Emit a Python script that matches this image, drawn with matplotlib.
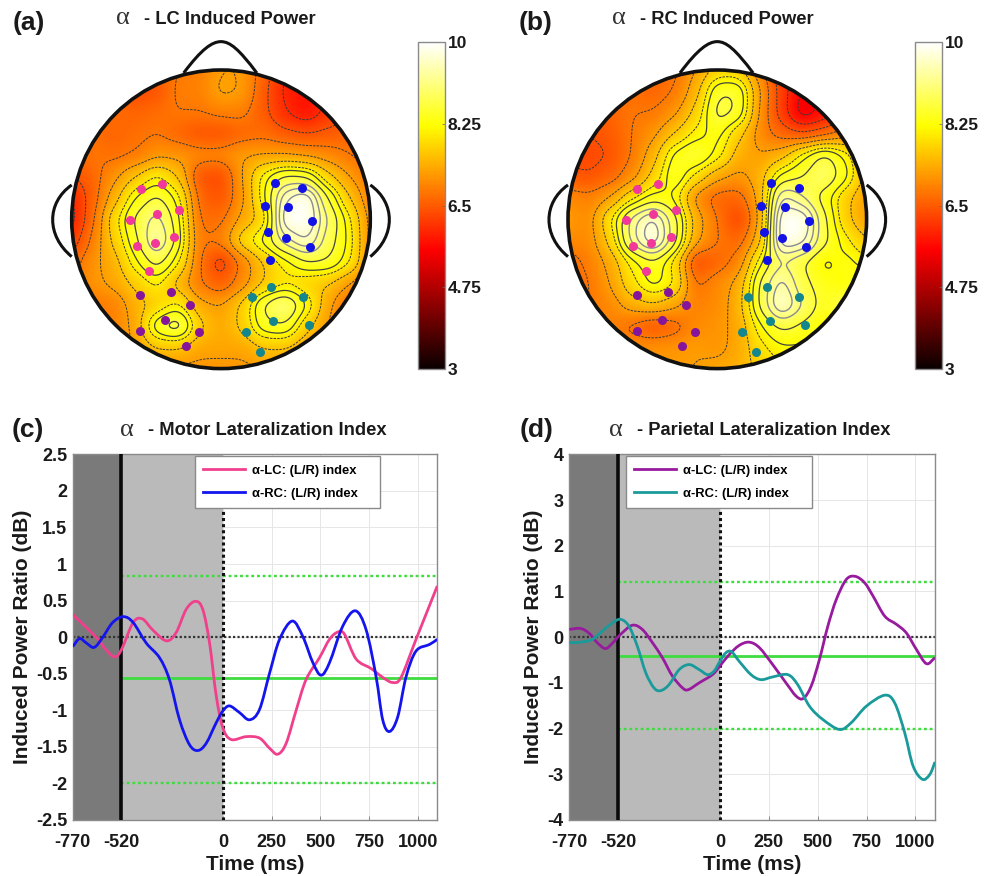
import numpy as np
import matplotlib
matplotlib.use("Agg")
import matplotlib.pyplot as plt
from matplotlib.path import Path
from matplotlib.patches import Circle, PathPatch

plt.rcParams['font.family'] = ['Liberation Sans', 'DejaVu Sans']
plt.rcParams['font.weight'] = 'bold'
plt.rcParams['axes.unicode_minus'] = False

W, H = 984, 876

# power, rows top to bottom, left to right
power_a = [
    [6.6,6.6,6.6,6.6,6.6,6.8,6.9,7.2,7.2,6.6,6.0,5.9,6.2,6.4,6.6],
    [6.6,6.6,6.6,6.3,6.4,6.9,6.9,7.3,7.2,6.5,5.9,5.7,6.1,6.4,6.6],
    [6.6,6.6,6.7,6.6,6.7,6.8,6.8,6.9,6.9,6.5,6.0,5.7,6.1,6.4,6.6],
    [6.6,6.7,6.6,6.7,6.8,6.6,6.4,6.4,6.6,6.7,6.5,6.4,6.5,6.6,6.6],
    [6.6,6.8,6.7,6.8,7.1,7.1,7.0,7.0,7.2,7.2,7.2,7.1,7.0,6.8,6.6],
    [6.4,6.6,7.1,7.6,8.1,7.6,6.4,6.3,7.2,8.2,8.7,8.6,7.7,7.2,6.8],
    [5.9,6.6,7.4,8.3,8.7,8.2,6.6,6.4,7.1,8.2,9.6,10.0,8.6,7.6,6.9],
    [5.8,6.7,7.9,8.7,9.2,8.4,6.7,6.7,7.3,7.7,10.0,10.0,9.0,8.1,7.0],
    [6.1,6.9,7.7,8.5,9.5,8.5,6.8,6.9,7.9,8.4,9.2,9.7,8.8,8.2,7.0],
    [6.6,7.1,7.4,8.2,8.8,8.1,6.8,6.1,6.9,7.6,8.1,8.6,8.6,8.1,7.0],
    [6.8,7.1,7.3,7.7,8.1,7.4,6.8,6.5,7.0,7.6,7.9,7.7,7.6,7.2,6.7],
    [6.8,6.8,6.9,7.4,7.7,8.1,7.3,7.2,7.7,8.7,9.2,8.3,7.3,6.7,6.4],
    [6.8,6.8,6.9,7.3,8.6,9.0,7.7,7.3,7.7,8.5,8.6,7.7,7.2,6.6,6.4],
    [6.8,6.9,7.0,7.2,7.6,7.6,7.3,7.3,7.3,7.6,7.6,7.3,7.1,6.8,6.6],
    [6.9,6.9,7.0,7.1,7.1,7.1,7.1,7.1,7.1,7.2,7.2,7.1,6.9,6.8,6.6],
]
power_b = [
    [6.6,6.6,6.7,6.7,6.6,6.7,7.2,7.7,7.7,6.9,6.1,5.9,5.9,6.0,6.1],
    [6.6,6.6,6.7,6.7,6.6,6.8,7.4,8.6,8.6,7.2,6.2,5.5,5.7,6.0,6.3],
    [6.5,6.5,6.6,6.8,6.8,7.1,7.7,8.8,8.6,7.1,6.2,5.3,5.7,6.2,6.6],
    [6.4,6.4,6.5,6.8,7.1,7.6,8.1,8.4,7.7,7.0,6.6,6.4,6.6,7.0,7.2],
    [6.3,6.3,6.4,6.8,7.4,8.4,8.7,8.2,7.4,7.2,7.4,8.2,8.8,8.2,7.4],
    [6.5,6.4,6.6,7.0,7.7,8.6,7.9,7.3,7.1,7.4,8.4,8.6,9.0,8.4,7.4],
    [7.0,6.9,7.2,7.9,8.4,8.2,7.0,6.6,6.6,7.3,9.5,9.0,8.4,7.7,7.2],
    [7.2,7.0,8.0,9.2,9.8,8.8,7.4,6.8,6.2,7.2,10.0,10.0,8.7,7.7,7.2],
    [7.0,7.0,7.7,9.2,10.0,8.8,7.3,6.8,6.6,7.4,10.0,9.8,8.7,8.1,7.6],
    [6.6,6.9,7.3,8.1,8.5,7.9,6.3,6.6,6.9,8.2,9.0,8.6,8.1,8.4,8.1],
    [6.4,6.8,7.2,7.9,8.4,8.1,6.7,7.0,7.3,8.7,9.5,8.7,8.4,8.2,8.7],
    [6.6,6.8,7.0,7.4,7.6,7.3,6.9,7.0,7.4,8.7,9.8,9.0,8.4,8.8,9.0],
    [6.6,6.8,6.9,6.7,6.4,6.6,7.0,7.1,7.3,8.2,8.7,8.5,8.2,8.4,8.5],
    [6.8,6.8,6.9,7.0,7.1,7.1,7.2,7.1,7.3,7.9,8.2,8.2,8.1,8.1,7.7],
    [6.9,6.9,7.0,7.0,7.1,7.2,7.2,7.3,7.4,7.7,7.9,7.9,7.7,7.7,7.7],
]

# electrodes in head units (radius = 1)
pink_x = [-.538,-.397,-.609,-.431,-.279,-.565,-.444,-.312,-.480]
pink_y = [.201,.239,-.007,.038,.065,-.179,-.156,-.121,-.344]
blue_x = [.359,.545,.292,.451,.612,.315,.435,.594,.330]
blue_y = [.246,.212,.092,.085,-.013,-.083,-.125,-.185,-.272]
purple_x = [-.540,-.333,-.208,-.373,-.540,-.147,-.237]
purple_y = [-.507,-.487,-.576,-.674,-.748,-.754,-.846]
teal_x = [.335,.208,.549,.350,.589,.165,.259]
teal_y = [-.455,-.522,-.522,-.679,-.708,-.752,-.891]

# panel c
c_lc_t = [-770,-650,-600,-555,-520,-460,-413,-360,-290,-240,-188,-140,-103,-68,-34,0,43,120,188,240,282,325,376,427,496,547,590,624,684,761,820,871,914,991,1100]
c_lc_v = [.31,0,-.17,-.27,-.17,.2,.25,.1,-.05,.06,.38,.49,.38,-.08,-.8,-1.24,-1.4,-1.36,-1.38,-1.52,-1.6,-1.45,-1.0,-.58,-.28,-.03,.07,.04,-.3,-.43,-.55,-.62,-.55,-.03,.7]
c_rc_t = [-770,-735,-700,-660,-618,-565,-510,-460,-393,-325,-274,-222,-171,-128,-85,-34,0,34,85,137,188,240,291,356,410,462,504,547,615,680,735,786,820,855,897,940,991,1060,1100]
c_rc_v = [-.13,-.02,-.08,-.14,-.01,.2,.28,.2,-.08,-.28,-.58,-1.13,-1.47,-1.55,-1.45,-1.17,-1.01,-.94,-1.03,-1.13,-.99,-.49,-.03,.22,.01,-.35,-.52,-.35,.15,.36,.1,-.54,-1.13,-1.29,-1.09,-.54,-.19,-.1,-.03]
# panel d
d_lc_t = [-770,-713,-670,-627,-585,-547,-508,-448,-397,-345,-294,-243,-191,-162,-106,-38,0,48,99,150,202,270,338,390,427,467,509,552,595,646,692,740,783,843,903,954,1005,1056,1100]
d_lc_v = [.17,.19,.09,-.12,-.25,-.12,.06,.26,.17,-.12,-.45,-.85,-1.11,-1.15,-1.0,-.82,-.63,-.38,-.18,-.11,-.23,-.6,-1.0,-1.29,-1.34,-1.07,-.49,.24,.82,1.26,1.33,1.19,.9,.46,.28,.09,-.27,-.58,-.45]
d_rc_t = [-770,-713,-653,-602,-550,-508,-465,-422,-379,-337,-303,-260,-208,-157,-106,-63,-29,0,31,60,99,159,210,270,347,398,458,526,612,672,749,843,894,945,988,1036,1074,1100]
d_rc_v = [-.12,-.11,-.05,.13,.31,.39,.24,-.2,-.78,-1.11,-1.17,-1.04,-.71,-.6,-.71,-.82,-.74,-.53,-.34,-.32,-.53,-.82,-.93,-.87,-.82,-1.04,-1.51,-1.8,-2.02,-1.87,-1.51,-1.27,-1.44,-2.09,-2.82,-3.11,-3.0,-2.73]

c_mean, c_upper, c_lower = -.56, .84, -2.0
d_mean, d_upper, d_lower = -.42, 1.2, -2.02

x_ticks = [-770,-520,0,250,500,750,1000]
x_labels = ['-770','-520','0','250','500','750','1000']
c_yticks = [-2.5,-2,-1.5,-1,-.5,0,.5,1,1.5,2,2.5]
c_ylabels = ['-2.5','-2','-1.5','-1','-0.5','0','0.5','1','1.5','2','2.5']
d_yticks = [-4,-3,-2,-1,0,1,2,3,4]
cbar_ticks = [3,4.75,6.5,8.25,10]
cbar_labels = ['3','4.75','6.5','8.25','10']


def box(x0, y0, x1, y1):
    # pixel box, y from the top, to figure fractions
    return [x0/W, 1-y1/H, (x1-x0)/W, (y1-y0)/H]


def soften(power, k=20, sigma=0.4):
    # only for display: blocks of the table blurred so the map has no cell edges
    fine = np.kron(np.array(power)[::-1], np.ones((k, k)))
    half = int(3*sigma*k)
    kernel = np.exp(-0.5*(np.arange(-half, half+1)/(sigma*k))**2)
    kernel = kernel/kernel.sum()
    fine = np.pad(fine, half, mode='edge')
    fine = np.apply_along_axis(lambda a: np.convolve(a, kernel, mode='same'), 0, fine)
    fine = np.apply_along_axis(lambda a: np.convolve(a, kernel, mode='same'), 1, fine)
    return fine[half:-half, half:-half]


def smooth_path(t, v):
    # bezier segments through the read points
    pts = np.column_stack([t, v]).astype(float)
    tan = np.gradient(pts, axis=0)
    verts = [pts[0]]
    codes = [Path.MOVETO]
    for i in range(len(pts)-1):
        verts += [pts[i]+tan[i]/3, pts[i+1]-tan[i+1]/3, pts[i+1]]
        codes += [Path.CURVE4]*3
    return Path(verts, codes)


def draw_head(fig, cx, cy, r, cbx, power):
    s = 1.25
    ax = fig.add_axes(box(cx-s*r, cy-s*r, cx+s*r, cy+s*r))

    zi = soften(power)
    n = len(power)
    edge = 1+1/(n-1)
    xs = np.linspace(-edge, edge, zi.shape[0])
    xi, yi = np.meshgrid(xs, xs)

    clip = Circle((0, 0), 1, transform=ax.transData)
    im = ax.imshow(zi, extent=(-edge, edge, -edge, edge), origin='lower', cmap='hot', vmin=3, vmax=10, zorder=1)
    im.set_clip_path(clip)
    dashed = ax.contour(xi, yi, zi, levels=[5.6,6.0,6.4,6.8,7.2,7.6,8.0], colors='#3a3a3a',
                        linewidths=0.7, linestyles=[(0, (2.5, 1.2))], zorder=2)
    solid = ax.contour(xi, yi, zi, levels=[8.25,8.6], colors='#444444',
                       linewidths=0.9, linestyles='solid', zorder=2)
    top = ax.contour(xi, yi, zi, levels=[9.0,9.3,9.6], colors='#8a8a94',
                     linewidths=1.0, linestyles='solid', zorder=2)
    for cs in (dashed, solid, top):
        cs.set_clip_path(clip)

    ax.add_patch(Circle((0, 0), 1, fill=False, ec='#111111', lw=2.6, zorder=3))
    nose = Path([(-.25,.98),(-.13,1.14),(-.06,1.19),(0,1.19),(.06,1.19),(.12,1.14),(.24,.98)],
                [Path.MOVETO,Path.CURVE4,Path.CURVE4,Path.CURVE4,Path.CURVE4,Path.CURVE4,Path.CURVE4])
    ear_l = Path([(-1.0,.23),(-1.17,.11),(-1.17,-.11),(-1.0,-.25)],
                 [Path.MOVETO,Path.CURVE4,Path.CURVE4,Path.CURVE4])
    ear_r = Path([(1.0,.23),(1.17,.11),(1.17,-.11),(1.0,-.25)],
                 [Path.MOVETO,Path.CURVE4,Path.CURVE4,Path.CURVE4])
    for p in (nose, ear_l, ear_r):
        ax.add_patch(PathPatch(p, fill=False, ec='#111111', lw=2.2, zorder=3))

    ax.plot(pink_x, pink_y, 'o', color='#f0399a', ms=6.5, mew=0, zorder=4)
    ax.plot(blue_x, blue_y, 'o', color='#1212e6', ms=6.5, mew=0, zorder=4)
    ax.plot(purple_x, purple_y, 'o', color='#85159a', ms=6.5, mew=0, zorder=4)
    ax.plot(teal_x, teal_y, 'o', color='#14868e', ms=6.5, mew=0, zorder=4)
    ax.set_xlim(-s, s)
    ax.set_ylim(-s, s)
    ax.axis('off')

    cax = fig.add_axes(box(cbx, 42, cbx+26.7, 369))
    cb = fig.colorbar(im, cax=cax, ticks=cbar_ticks)
    cb.ax.set_yticklabels(cbar_labels, fontsize=12.5, color='#1a1a1a')
    cb.ax.tick_params(length=2, width=0.5, direction='in', color='#666666', pad=2)
    cb.outline.set_edgecolor('#8a8a8a')
    cb.outline.set_linewidth(1.0)


def draw_index(fig, x0, x1, ylim, yticks, ylabels, t1, v1, col1, t2, v2, col2, mean, upper, lower, leg_x):
    ax = fig.add_axes(box(x0, 454.3, x1, 820))
    ax.set_xlim(-770, 1100)
    ax.set_ylim(*ylim)
    ax.axvspan(-770, -520, color='#7a7a7a', lw=0, zorder=1)
    ax.axvspan(-520, 0, color='#bababa', lw=0, zorder=1)
    ax.set_axisbelow(True)
    ax.grid(color='#e6e6e6', lw=0.7)
    ax.plot([-520, 1100], [upper, upper], color='#3fdc3f', lw=1.7, ls=(0, (1.2, 1.2)), zorder=2)
    ax.plot([-520, 1100], [lower, lower], color='#3fdc3f', lw=1.7, ls=(0, (1.2, 1.2)), zorder=2)
    ax.plot([-520, 1100], [mean, mean], color='#3fdc3f', lw=2.0, zorder=2)
    ax.axhline(0, color='#333333', lw=1.6, ls=(0, (1, 1)), zorder=2)
    ax.axvline(-520, color='#0a0a0a', lw=2.6, zorder=3)
    ax.plot([0, 0], [ylim[0], ylim[1]], color='#111111', lw=2.2, ls=(0, (1, 1)), zorder=3)

    ax.add_patch(PathPatch(smooth_path(t1, v1), fill=False, ec=col1, lw=2.0, zorder=4))
    ax.add_patch(PathPatch(smooth_path(t2, v2), fill=False, ec=col2, lw=2.0, zorder=4))
    ax.plot([], [], color=col1, lw=2.0, label='α-LC: (L/R) index')
    ax.plot([], [], color=col2, lw=2.0, label='α-RC: (L/R) index')

    ax.set_xticks(x_ticks)
    ax.set_xticklabels(x_labels)
    ax.set_yticks(yticks)
    ax.set_yticklabels(ylabels)
    ax.tick_params(direction='in', length=3, width=0.6, color='#777777', labelsize=13, labelcolor='#1a1a1a')
    ax.tick_params(axis='x', pad=10)
    ax.tick_params(axis='y', pad=4)
    for sp in ax.spines.values():
        sp.set_edgecolor('#8a8a8a')
        sp.set_linewidth(1.0)
    ax.set_xlabel('Time (ms)', fontsize=15, fontweight='bold', color='#1a1a1a', labelpad=3)
    ax.set_ylabel('Induced Power Ratio (dB)', fontsize=15, fontweight='bold', color='#1a1a1a', labelpad=3)

    leg = ax.legend(loc='upper left', bbox_to_anchor=(leg_x, 0.995, 0.508, 0), mode='expand', fontsize=9.4,
                    fancybox=False, framealpha=1, edgecolor='#8a8a8a', borderaxespad=0, borderpad=0.65,
                    labelspacing=0.85, handlelength=3.2, handletextpad=0.55)
    leg.set_zorder(6)
    leg.get_frame().set_linewidth(1.0)
    return ax


fig = plt.figure(figsize=(W/100, H/100), dpi=100, facecolor='white')

draw_head(fig, 221, 219.3, 149.3, 418, power_a)
draw_head(fig, 717.3, 219.3, 149.3, 915.3, power_b)

draw_index(fig, 72.7, 437.3, (-2.5, 2.5), c_yticks, c_ylabels, c_lc_t, c_lc_v, '#f0408c',
           c_rc_t, c_rc_v, '#1414ee', c_mean, c_upper, c_lower, 0.335)
draw_index(fig, 569.3, 935, (-4, 4), d_yticks, [str(v) for v in d_yticks], d_lc_t, d_lc_v, '#981a9e',
           d_rc_t, d_rc_v, '#1a9a9a', d_mean, d_upper, d_lower, 0.155)

panel_labels = ['(a)', '(b)', '(c)', '(d)']
label_xy = [(13, 23), (519, 23), (12, 430), (520, 430)]
for s, (x, y) in zip(panel_labels, label_xy):
    fig.text(x/W, 1-y/H, s, fontsize=19, color='#1a1a1a', va='center', ha='left')

titles = ['- LC Induced Power', '- RC Induced Power', '- Motor Lateralization Index', '- Parietal Lateralization Index']
alpha_xy = [(116, 18), (612, 18), (120, 430), (609, 430)]
title_x = [144, 640, 148, 637]
title_y = [19, 19, 431, 431]
for s, (ax_, ay), tx, ty in zip(titles, alpha_xy, title_x, title_y):
    fig.text(ax_/W, 1-ay/H, 'α', fontsize=19, family='Liberation Serif', weight='normal', color='#333333', va='center')
    fig.text(tx/W, 1-ty/H, s, fontsize=13.2, color='#1a1a1a', va='center')

fig.savefig('out.png', dpi=100)
